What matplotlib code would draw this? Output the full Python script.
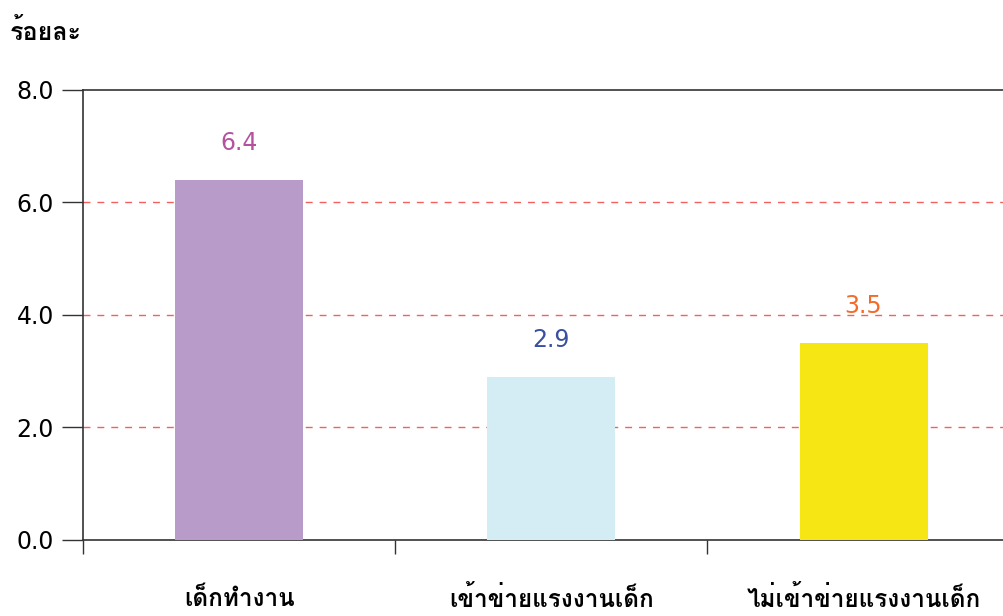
import matplotlib
matplotlib.use("Agg")
import matplotlib.pyplot as plt
from matplotlib import font_manager
from matplotlib.ft2font import FT2Font

categories = ["เด็กทำงาน", "เข้าข่ายแรงงานเด็ก", "ไม่เข้าข่ายแรงงานเด็ก"]
values = [6.4, 2.9, 3.5]
bar_colors = ["#b89bc9", "#d4ecf3", "#f5e614"]
label_colors = ["#b5529f", "#3a4fa0", "#f26b2a"]
yticks = [0, 2, 4, 6, 8]


# find a font that has Thai glyphs
def find_thai_font():
    for f in font_manager.fontManager.ttflist:
        try:
            cmap = FT2Font(f.fname).get_charmap()
        except Exception:
            continue
        if 0x0E23 in cmap and 0x0E49 in cmap:
            return f.name
    return None

thai = find_thai_font()
fams = ([thai] if thai else []) + ["DejaVu Sans"]
plt.rcParams["font.family"] = fams

fig = plt.figure(figsize=(10.04, 6.16), dpi=100)
ax = fig.add_axes([0.0827, 0.1234, 0.9173, 0.7305])

x = range(len(categories))
ax.bar(x, values, width=0.41, color=bar_colors, zorder=3)
for i, v in enumerate(values):
    ax.text(i, v + 0.45, f"{v:.1f}", ha="center", va="bottom",
            fontsize=17, color=label_colors[i], family="DejaVu Sans")

ax.set_xlim(-0.5, 2.45)
ax.set_ylim(0, 8)
ax.set_yticks(yticks)
ax.set_yticklabels([f"{t:.1f}" for t in yticks], fontsize=17, family="DejaVu Sans")
for t in [2, 4, 6]:
    ax.axhline(t, color="#f46060", lw=1, ls=(0, (5, 5)), zorder=1)

ax.set_xticks([-0.5, 0.5, 1.5])
ax.set_xticklabels([])
ax.tick_params(axis="x", length=10, width=1, color="#333333")
ax.tick_params(axis="y", length=15, width=1, color="#333333", pad=6)
ax.spines["right"].set_visible(False)
for s in ["top", "left", "bottom"]:
    ax.spines[s].set_color("#333333")
    ax.spines[s].set_linewidth(1.2)

for i, c in enumerate(categories):
    ax.text(i, -1.05, c, ha="center", va="center", fontsize=17.5, fontweight="bold")

fig.text(0.01, 0.948, "ร้อยละ", fontsize=18, fontweight="bold", ha="left", va="center")

fig.savefig("out.png", dpi=100)
